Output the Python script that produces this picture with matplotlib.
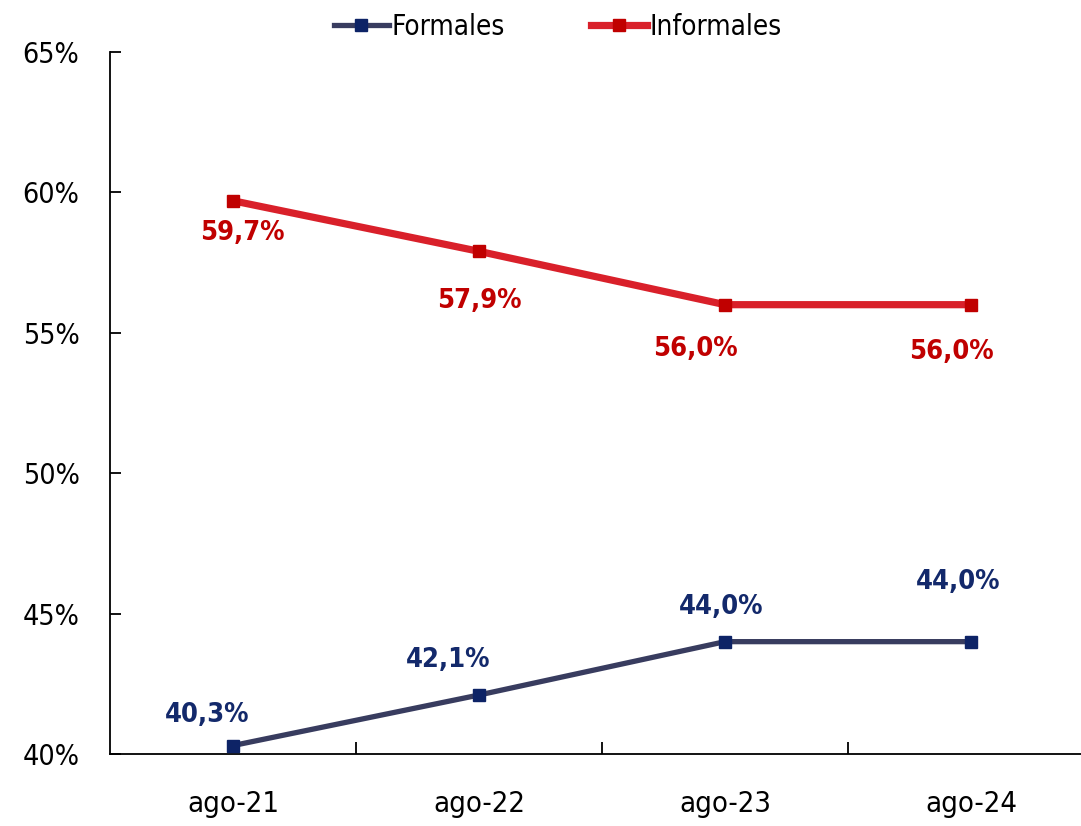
import matplotlib.pyplot as plt
from matplotlib.ticker import FuncFormatter

plt.rcParams['font.family'] = ['DejaVu Sans']
plt.rcParams['font.stretch'] = 'condensed'

fechas = ['ago-21', 'ago-22', 'ago-23', 'ago-24']
formales = [40.3, 42.1, 44.0, 44.0]
informales = [59.7, 57.9, 56.0, 56.0]

# desplazamientos de las etiquetas (en puntos)
off_inf = [(7, -23), (0, -36), (-21, -32), (-14, -34)]
off_for = [(-19, 22), (-22, 25), (-3, 25), (-9, 43)]

fig = plt.figure(figsize=(10.81, 8.26), dpi=100)
ax = fig.add_axes([0.1018, 0.0872, 0.9102, 0.8499])

x = list(range(len(fechas)))
ax.plot(x, formales, color='#383c5f', lw=3.8, marker='s', ms=9,
        mfc='#0d2366', mec='#0d2366', label='Formales', zorder=3)
ax.plot(x, informales, color='#d9202a', lw=5.2, marker='s', ms=9,
        mfc='#c00000', mec='#c00000', label='Informales', zorder=3)

for i in x:
    ax.annotate(f'{informales[i]:.1f}%'.replace('.', ','), (i, informales[i]),
                xytext=off_inf[i], textcoords='offset points', ha='center',
                va='center', fontsize=19.5, fontweight='bold', color='#c00000')
    ax.annotate(f'{formales[i]:.1f}%'.replace('.', ','), (i, formales[i]),
                xytext=off_for[i], textcoords='offset points', ha='center',
                va='center', fontsize=19.5, fontweight='bold', color='#13296b')

ax.set_xlim(-0.5, 3.5)
ax.set_ylim(40, 65)
ax.set_yticks([40, 45, 50, 55, 60, 65])
ax.yaxis.set_major_formatter(FuncFormatter(lambda v, p: f'{v:.0f}%'))
ax.set_xticks(x)
ax.set_xticklabels(fechas)
ax.set_xticks([0.5, 1.5, 2.5], minor=True)

ax.tick_params(axis='y', direction='in', length=8, width=1.3, pad=22,
               labelsize=20.5)
ax.tick_params(axis='x', which='major', length=0, pad=26, labelsize=21)
ax.tick_params(axis='x', which='minor', direction='in', length=9, width=1.3)

for s in ['top', 'right']:
    ax.spines[s].set_visible(False)
ax.spines['left'].set_linewidth(1.3)
ax.spines['bottom'].set_linewidth(1.3)

ax.legend(loc='lower center', bbox_to_anchor=(0.455, 1.0), ncol=2, frameon=False,
          fontsize=20, handlelength=2.0, handletextpad=0.1, columnspacing=3.1,
          borderaxespad=0.0)

fig.savefig('out.png', dpi=100)
